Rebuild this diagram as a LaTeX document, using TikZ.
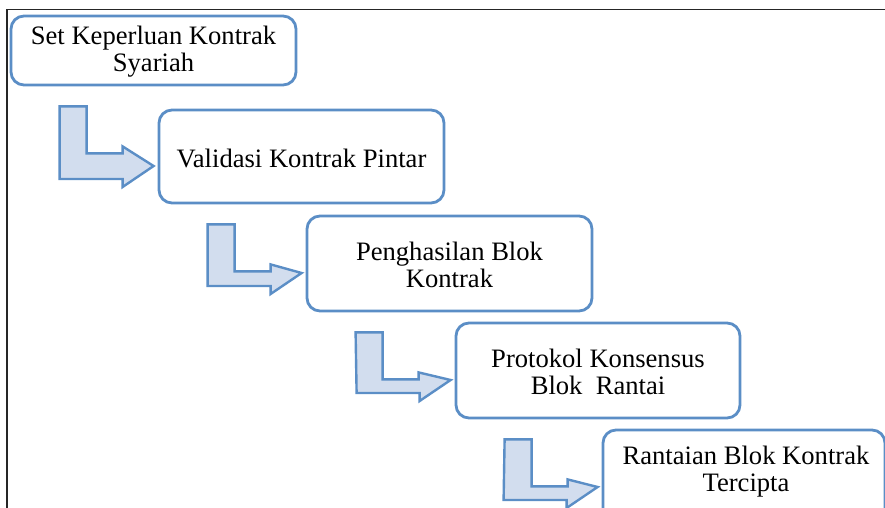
\documentclass[tikz,border=0pt]{standalone}
\usepackage{fontspec}
\setmainfont{Liberation Serif}
\usetikzlibrary{calc}
\definecolor{edgeblue}{HTML}{5B8EC6}
\definecolor{fillblue}{HTML}{D2DDEE}
\tikzset{
  stepbox/.style={draw=edgeblue, line width=2.8pt, rounded corners=13pt, fill=white, inner sep=0pt},
  steptext/.style={align=center, font=\fontsize{26.6pt}{27pt}\selectfont, inner sep=0pt},
  bentarrow/.style={draw=edgeblue, fill=fillblue, line width=2.4pt, line join=miter},
}
\begin{document}
\begin{tikzpicture}[x=1pt,y=-1pt]
\useasboundingbox (0,0) rectangle (885,508);
\begin{scope}
\clip (0,0) rectangle (885,508);
% frame
\draw[line width=1.3pt, black!85] (7,508) -- (7,9.5) -- (885,9.5);
% boxes
\node[stepbox, minimum width=285pt, minimum height=69pt] (b1) at (153.5,50.5) {};
\node[stepbox, minimum width=285pt, minimum height=93pt] (b2) at (301.5,156.5) {};
\node[stepbox, minimum width=285pt, minimum height=95pt] (b3) at (449.5,263.5) {};
\node[stepbox, minimum width=284pt, minimum height=95pt] (b4) at (598,370.5) {};
\node[stepbox, minimum width=282pt, minimum height=95pt] (b5) at (744,477.5) {};
% texts
\node[steptext] (t1) at (153.5,51.5) {Set Keperluan Kontrak\\Syariah};
\node[steptext] (t2) at (301.5,158) {Validasi Kontrak Pintar};
\node[steptext] (t3) at (449.5,265) {Penghasilan Blok\\Kontrak};
\node[steptext] (t4) at (598,372) {Protokol Konsensus\\Blok\ \ Rantai};
\node[steptext] (t5) at (746,471.5) {Rantaian Blok Kontrak\\Tercipta};
% bent arrows
\foreach \a/\b in {b1/b2,b2/b3,b3/b4,b4/b5}{
  \draw[bentarrow]
    ($(\a.south west)+(50,20)$) -- ++(27,0) -- ++(0,47) -- ++(36,0) -- ++(0,-7)
    -- ($(\b.west)+(-4,9.5)$) -- ($(\b.west)+(-35,30.5)$) -- ++(0,-8) -- ++(-63,0) -- cycle;
}
\end{scope}
\end{tikzpicture}
\end{document}
